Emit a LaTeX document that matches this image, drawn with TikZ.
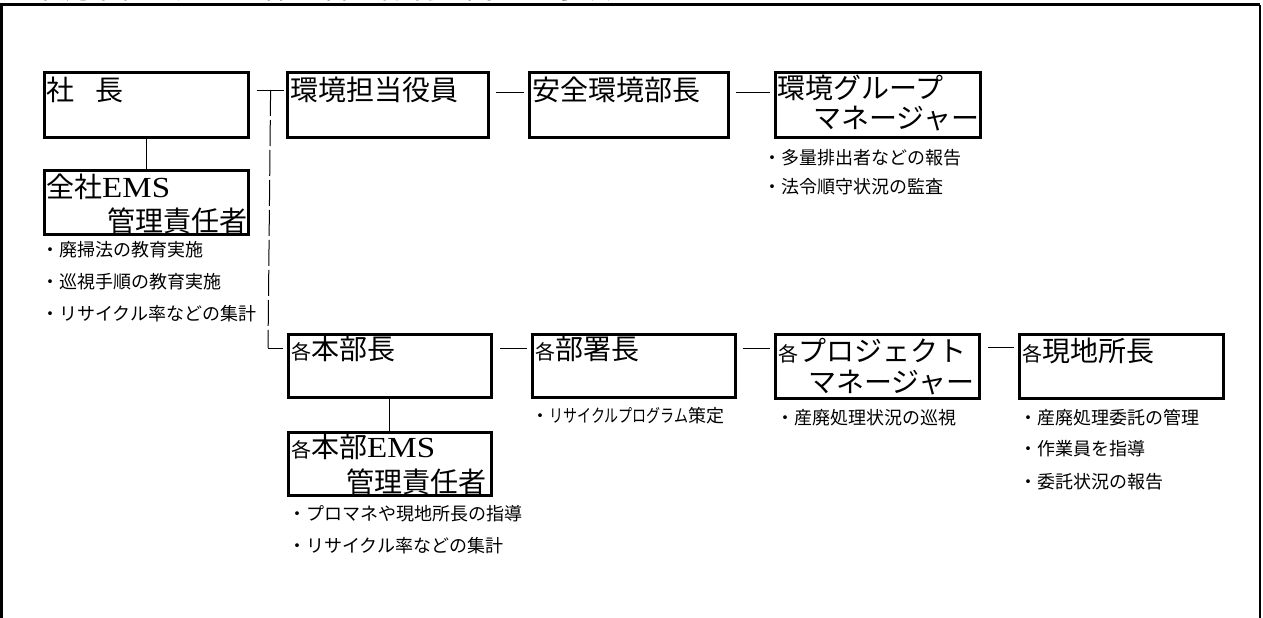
\documentclass[tikz,border=0pt]{standalone}
\usepackage{fontspec}
\usepackage{graphicx}
\setmainfont{Noto Sans CJK JP}
\newfontfamily\latinserif{Liberation Serif}
\usetikzlibrary{calc}
\newcommand\smkaku{{\fontsize{20}{20}\selectfont 各}}
\newcommand\emsword{\scalebox{1.18}[1.04]{\latinserif EMS}}
\tikzset{
  box/.style={draw, line width=2.6pt, inner sep=0pt, anchor=north west},
  ttl/.style={inner sep=0pt, font=\fontsize{28}{28}\selectfont},
  bul/.style={inner sep=0pt, anchor=base west, font=\fontsize{18}{18}\selectfont},
  conn/.style={line width=1pt},
  dconn/.style={line width=1pt, dash pattern=on 26pt off 4pt},
  frame/.style={line width=3pt},
}
\begin{document}
\begin{tikzpicture}[x=1pt,y=-1pt]
\useasboundingbox (0,0) rectangle (1263,618);
\clip (0,0) rectangle (1263,618);
% clipped heading and frame
\node[inner sep=0pt, anchor=base west, font=\fontsize{29}{29}\selectfont] (heading) at (2,-1.5) {産業廃棄物の処理に係る管理体制に関する事項};
\draw[frame] (1.5,640) -- (1.5,5) -- (1260,5);
\draw[line width=1.6pt] (1260,5) -- (1260,640);

% boxes
\node[box, minimum width=204pt, minimum height=65pt] (shacho) at (43,71) {};
\node[box, minimum width=204pt, minimum height=64pt] (zensha) at (43,169) {};
\node[box, minimum width=201pt, minimum height=65pt] (kt) at (286,71) {};
\node[box, minimum width=199pt, minimum height=65pt] (az) at (528,71) {};
\node[box, minimum width=205pt, minimum height=65pt] (kg) at (774,71) {};
\node[box, minimum width=203pt, minimum height=63pt] (hb) at (287,333) {};
\node[box, minimum width=203pt, minimum height=63pt] (bs) at (531,333) {};
\node[box, minimum width=204pt, minimum height=64pt] (pm) at (774,333) {};
\node[box, minimum width=204pt, minimum height=64pt] (gc) at (1018,333) {};
\node[box, minimum width=203pt, minimum height=63pt] (hbe) at (287,431) {};

% titles
\node[ttl, anchor=base west] (shacho-t) at ($(shacho.north west)+(3,29)$) {社\hspace{21pt}長};
\node[ttl, anchor=base west] (zensha-t1) at ($(zensha.north west)+(3,28)$) {全社\emsword};
\node[ttl, anchor=base east] (zensha-t2) at ($(zensha.north east)+(-2,62)$) {管理責任者};
\node[ttl, anchor=base west] (kt-t) at ($(kt.north west)+(4,29)$) {環境担当役員};
\node[ttl, anchor=base west] (az-t) at ($(az.north west)+(4,29)$) {安全環境部長};
\node[ttl, anchor=base west] (kg-t1) at ($(kg.north west)+(3,28)$) {環境グループ};
\node[ttl, anchor=base east] (kg-t2) at ($(kg.north east)+(-2,57)$) {マネージャー};
\node[ttl, anchor=base west] (hb-t) at ($(hb.north west)+(4,26)$) {\smkaku 本部長};
\node[ttl, anchor=base west] (bs-t) at ($(bs.north west)+(4,26)$) {\smkaku 部署長};
\node[ttl, anchor=base west] (pm-t1) at ($(pm.north west)+(4,28)$) {\smkaku プロジェクト};
\node[ttl, anchor=base east] (pm-t2) at ($(pm.north east)+(-6,59)$) {マネージャー};
\node[ttl, anchor=base west] (gc-t) at ($(gc.north west)+(4,28)$) {\smkaku 現地所長};
\node[ttl, anchor=base west] (hbe-t1) at ($(hbe.north west)+(4,26)$) {\smkaku 本部\emsword};
\node[ttl, anchor=base east] (hbe-t2) at ($(hbe.north east)+(-6,61)$) {管理責任者};

% bullet notes
\node[bul] (z1) at (41,256) {・廃掃法の教育実施};
\node[bul] (z2) at (41,288) {・巡視手順の教育実施};
\node[bul] (z3) at (41,320) {・リサイクル率などの集計};
\node[bul] (k1) at (763,164) {・多量排出者などの報告};
\node[bul] (k2) at (763,193) {・法令順守状況の監査};
\node[bul] (b1) at (531,422) {・\scalebox{0.78}[1]{リサイクルプログラム}策定};
\node[bul] (p1) at (776,424) {・産廃処理状況の巡視};
\node[bul] (g1) at (1019,424) {・産廃処理委託の管理};
\node[bul] (g2) at (1019,455) {・作業員を指導};
\node[bul] (g3) at (1019,488) {・委託状況の報告};
\node[bul] (e1) at (288,520) {・プロマネや現地所長の指導};
\node[bul] (e2) at (288,552) {・リサイクル率などの集計};

% connectors
\draw[conn] (shacho.south) -- (zensha.north);
\draw[conn] (hb.south) -- (hbe.north);
\coordinate (tl) at ($(shacho.north east)+(7,19)$);
\coordinate (tr) at ($(kt.north west)+(-2,19)$);
\coordinate (tj) at ($(shacho.north east)+(21,19)$);
\coordinate (bj) at ($(hb.north west)+(-19,15)$);
\coordinate (br) at ($(hb.north west)+(-4,15)$);
\draw[conn] (tl) -- (tr);
\draw[dconn] (tj) -- (bj);
\draw[conn] (bj) -- (br);
\draw[conn] ($(kt.north east)+(6,21)$) -- ($(az.north west)+(-4,21)$);
\draw[conn] ($(az.north east)+(6,21)$) -- ($(kg.north west)+(-4,21)$);
\draw[conn] ($(hb.north east)+(7,15)$) -- ($(bs.north west)+(-4,15)$);
\draw[conn] ($(bs.north east)+(6,15)$) -- ($(pm.north west)+(-4,15)$);
\draw[conn] ($(pm.north east)+(7,14)$) -- ($(gc.north west)+(-4,14)$);
\end{tikzpicture}
\end{document}
